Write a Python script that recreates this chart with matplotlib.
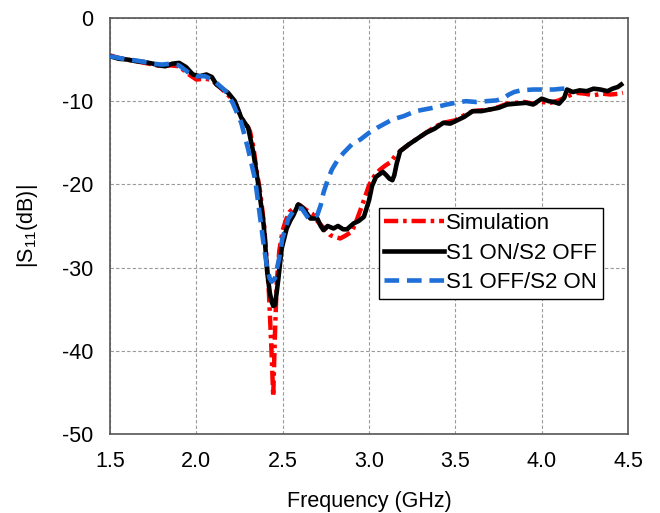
import matplotlib
matplotlib.use("Agg")
import matplotlib.pyplot as plt
import numpy as np

plt.rcParams["font.family"] = ["Liberation Sans", "DejaVu Sans"]
plt.rcParams["mathtext.fontset"] = "custom"
plt.rcParams["mathtext.rm"] = "Liberation Sans"
plt.rcParams["axes.unicode_minus"] = False

# Simulation
f_sim = [1.5, 1.55, 1.6, 1.65, 1.7, 1.75, 1.8, 1.85, 1.9, 1.95, 2.0, 2.05, 2.08,
         2.12, 2.16, 2.2, 2.23, 2.26, 2.29, 2.31, 2.33, 2.35, 2.37, 2.39, 2.40,
         2.42, 2.435, 2.445, 2.455, 2.465, 2.48, 2.5, 2.52, 2.54, 2.57, 2.6,
         2.63, 2.67, 2.7, 2.74, 2.775, 2.8, 2.833, 2.86, 2.9, 2.93, 2.96, 3.0,
         3.03, 3.06, 3.09, 3.126, 3.15, 3.18, 3.23, 3.28, 3.33, 3.38, 3.43, 3.5,
         3.55, 3.6, 3.65, 3.7, 3.75, 3.8, 3.85, 3.9, 3.95, 4.0, 4.05, 4.1, 4.15,
         4.2, 4.25, 4.3, 4.35, 4.4, 4.45, 4.47]
s_sim = [-4.5, -4.8, -5.0, -5.2, -5.4, -5.6, -5.8, -5.7, -5.8, -6.7, -7.4, -7.3, -7.4,
         -8.0, -8.8, -9.6, -10.5, -12.0, -12.8, -13.6, -15.5, -18.5, -21.0, -24.5, -27.0,
         -33.0, -40.0, -45.5, -38.0, -32.0, -28.0, -25.5, -24.2, -23.3, -22.7, -22.5,
         -23.0, -23.5, -24.4, -25.3, -26.1, -26.3, -26.5, -26.2, -25.7, -24.2, -22.5, -20.1,
         -19.0, -18.3, -17.8, -17.3, -16.6, -16.0, -15.2, -14.5, -13.8, -13.1, -12.6, -12.3,
         -11.7, -11.2, -11.1, -11.0, -10.7, -10.3, -10.2, -10.1, -10.3, -10.1, -10.2, -9.9, -9.4,
         -9.0, -9.1, -9.3, -9.1, -9.2, -9.1, -9.0]

# S1 ON / S2 OFF
f_on = [1.5, 1.55, 1.6, 1.65, 1.7, 1.75, 1.78, 1.82, 1.86, 1.9, 1.94, 1.98, 2.02,
        2.058, 2.09, 2.116, 2.15, 2.184, 2.223, 2.26, 2.28, 2.30, 2.33, 2.36, 2.39,
        2.41, 2.425, 2.436, 2.445, 2.455, 2.465, 2.475, 2.494, 2.523, 2.545, 2.562,
        2.59, 2.62, 2.66, 2.70, 2.72, 2.736, 2.76, 2.794, 2.82, 2.85, 2.872, 2.91,
        2.94, 2.97, 3.0, 3.017, 3.04, 3.06, 3.08, 3.1, 3.117, 3.135, 3.146, 3.16,
        3.18, 3.23, 3.28, 3.33, 3.38, 3.43, 3.47, 3.5, 3.55, 3.6, 3.65, 3.7, 3.75,
        3.8, 3.85, 3.91, 3.95, 4.0, 4.04, 4.07, 4.1, 4.13, 4.146, 4.18, 4.22, 4.26,
        4.3, 4.34, 4.38, 4.41, 4.44, 4.46]
s_on = [-4.6, -4.9, -5.0, -5.2, -5.3, -5.5, -5.7, -5.8, -5.5, -5.4, -5.9, -6.8, -7.0,
        -6.8, -7.1, -8.0, -8.5, -9.0, -10.0, -12.0, -12.6, -13.2, -16.2, -20.2, -24.9,
        -30.5, -33.0, -34.1, -34.6, -34.5, -33.0, -31.3, -27.7, -25.3, -24.3, -23.7,
        -22.4, -22.9, -24.1, -24.1, -25.0, -25.5, -25.0, -25.3, -25.0, -25.4, -25.4, -24.7,
        -24.4, -23.9, -21.9, -20.2, -19.1, -18.8, -18.5, -18.9, -19.3, -19.5, -18.9, -17.5,
        -16.0, -15.2, -14.5, -13.8, -13.3, -12.6, -12.7, -12.4, -11.9, -11.2, -11.2, -11.0, -10.8,
        -10.4, -10.3, -10.2, -10.4, -9.7, -10.0, -10.1, -10.3, -9.6, -8.6, -8.9, -8.7, -8.8,
        -8.5, -8.6, -8.8, -8.5, -8.3, -8.0]

# S1 OFF / S2 ON
f_off = [1.5, 1.55, 1.6, 1.65, 1.7, 1.75, 1.8, 1.85, 1.9, 1.95, 2.0, 2.05, 2.1,
         2.17, 2.21, 2.26, 2.30, 2.34, 2.37, 2.39, 2.41, 2.425, 2.436, 2.455, 2.468,
         2.479, 2.498, 2.533, 2.572, 2.61, 2.65, 2.70, 2.72, 2.736, 2.76, 2.785,
         2.82, 2.853, 2.9, 2.95, 3.0, 3.047, 3.1, 3.136, 3.2, 3.27, 3.37, 3.45, 3.5,
         3.56, 3.62, 3.68, 3.74, 3.78, 3.81, 3.84, 3.88, 3.95, 4.0, 4.07, 4.12, 4.17]
s_off = [-4.6, -4.8, -5.0, -5.1, -5.3, -5.5, -5.6, -5.5, -5.7, -6.5, -7.0, -7.0, -7.5,
         -8.8, -10.2, -12.6, -15.8, -19.4, -24.1, -27.3, -30.1, -31.3, -31.7, -31.3, -30.0,
         -28.9, -26.5, -24.1, -22.9, -22.9, -24.1, -23.7, -22.5, -21.0, -19.5, -18.2,
         -17.0, -16.2, -15.2, -14.6, -13.8, -13.2, -12.6, -12.2, -11.8, -11.2, -10.8, -10.4, -10.2,
         -10.0, -10.1, -10.0, -9.9, -9.6, -9.2, -8.9, -8.7, -8.6, -8.6, -8.6, -8.5, -8.5]

fig = plt.figure(figsize=(6.6, 5.13), dpi=100)
ax = fig.add_axes([0.1667, 0.154, 0.785, 0.811])

ax.plot(f_sim, s_sim, color="#FF0000", lw=3.2, linestyle=(0, (3.2, 1.1, 0.8, 1.1)),
        label="Simulation", zorder=3)
ax.plot(f_on, s_on, color="black", lw=3.3, label="S1 ON/S2 OFF", zorder=4)
ax.plot(f_off, s_off, color="#1E6FD8", lw=3.3, linestyle=(0, (3.2, 1.7)),
        label="S1 OFF/S2 ON", zorder=5)

ax.set_xlim(1.5, 4.5)
ax.set_ylim(-50, 0)
ax.set_xticks(np.arange(1.5, 4.51, 0.5))
ax.set_xticklabels([f"{v:.1f}" for v in np.arange(1.5, 4.51, 0.5)])
ax.set_yticks(np.arange(-50, 1, 10))
ax.tick_params(axis="x", length=0, labelsize=15.5, pad=12)
ax.tick_params(axis="y", length=0, labelsize=15.5, pad=12)
ax.grid(True, color="#9a9a9a", linestyle=(0, (3, 2)), lw=0.8)
for sp in ax.spines.values():
    sp.set_color("#555555")
    sp.set_linewidth(1.2)

ax.set_xlabel("Frequency (GHz)", fontsize=15.5, labelpad=14)
ax.set_ylabel(r"|S$_{\mathregular{11}}$(dB)|", fontsize=15.5, labelpad=16)

leg = ax.legend(loc="upper left", bbox_to_anchor=(0.5185, 0.544), fontsize=16,
                frameon=True, fancybox=False, edgecolor="black", framealpha=1,
                handlelength=2.7, handletextpad=0.1, labelspacing=0.38,
                borderpad=0.25, borderaxespad=0)
leg.get_frame().set_linewidth(1.0)

fig.savefig("out.png", dpi=100)
